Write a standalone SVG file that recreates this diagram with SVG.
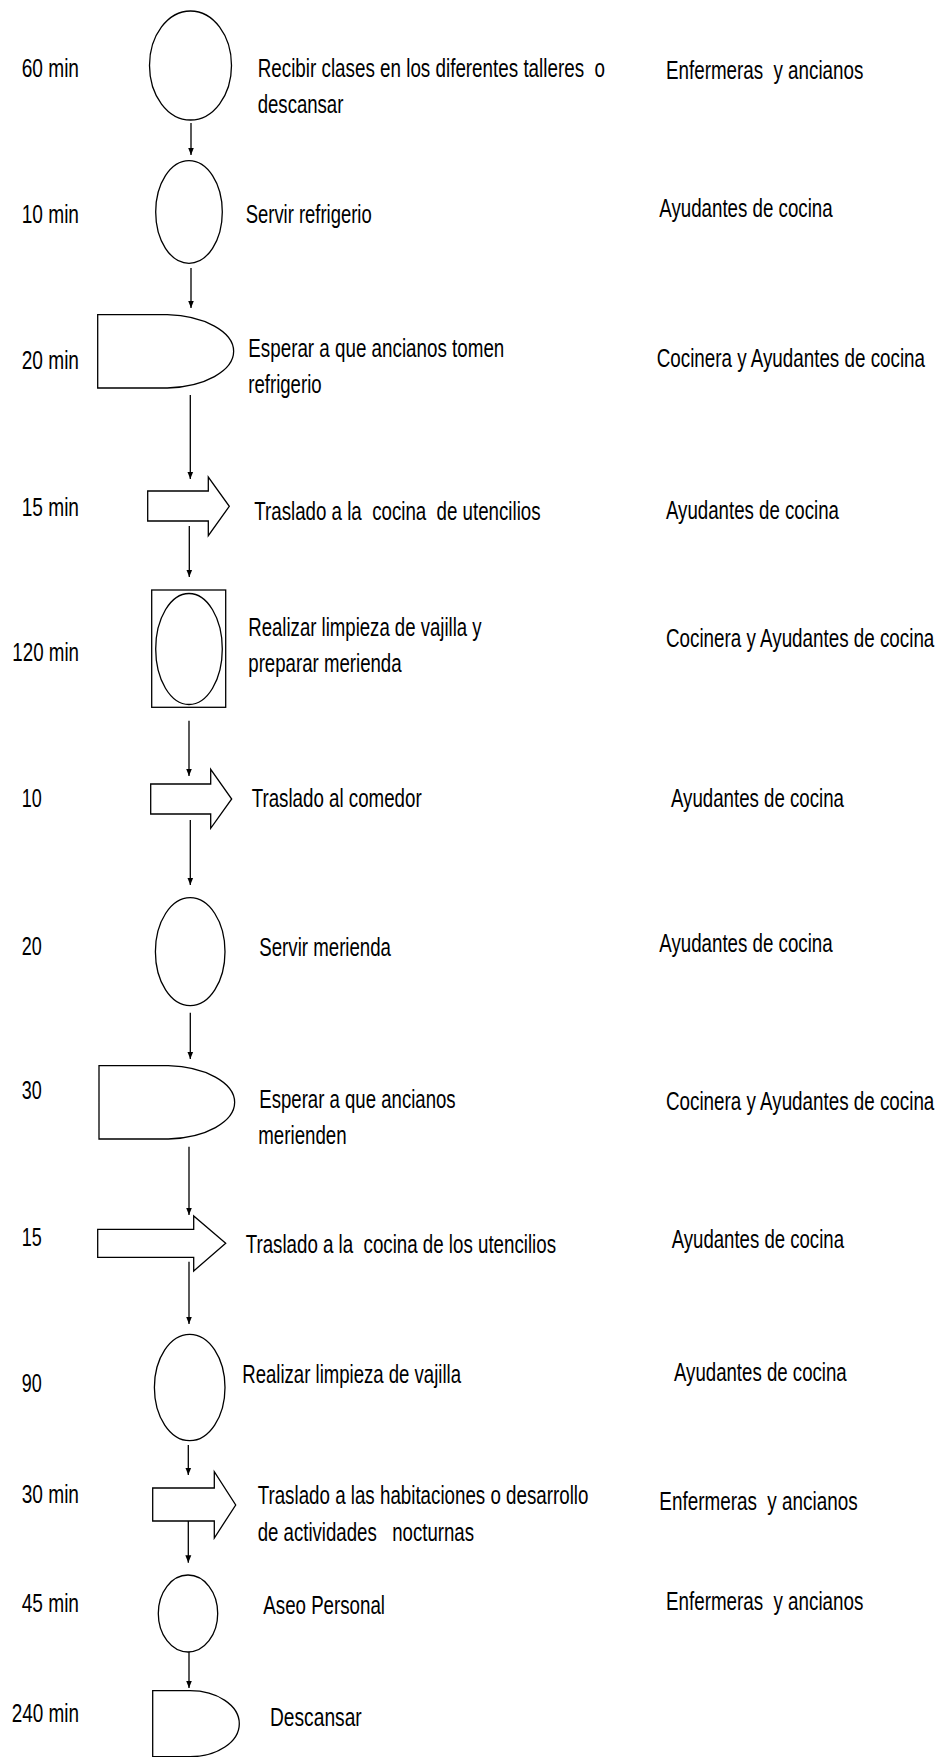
<svg xmlns="http://www.w3.org/2000/svg" width="940" height="1757" viewBox="0 0 940 1757">
<style>
.s{fill:#fff;stroke:#000;stroke-width:1.3}
.c{fill:none;stroke:#000;stroke-width:1.3}
text{font-family:"Liberation Sans Narrow","Liberation Sans",Arial,sans-serif;font-size:26.5px;fill:#000;white-space:pre}
</style>
<defs>
<marker id="ah" markerUnits="userSpaceOnUse" markerWidth="8" markerHeight="8" refX="7.5" refY="4" orient="auto"><path d="M0,1 L7.5,4 L0,7 z" fill="#000"/></marker>
</defs>
<rect width="940" height="1757" fill="#fff"/>
<g id="connectors">
<line class="c" x1="191" y1="123" x2="191" y2="155" marker-end="url(#ah)"/>
<line class="c" x1="191" y1="268" x2="191" y2="308" marker-end="url(#ah)"/>
<line class="c" x1="190.3" y1="395" x2="190.3" y2="479" marker-end="url(#ah)"/>
<line class="c" x1="189.3" y1="526" x2="189.3" y2="577" marker-end="url(#ah)"/>
<line class="c" x1="189" y1="720.7" x2="189" y2="776" marker-end="url(#ah)"/>
<line class="c" x1="190.3" y1="820" x2="190.3" y2="885" marker-end="url(#ah)"/>
<line class="c" x1="190.3" y1="1012.7" x2="190.3" y2="1059" marker-end="url(#ah)"/>
<line class="c" x1="189" y1="1146.7" x2="189" y2="1215" marker-end="url(#ah)"/>
<line class="c" x1="189" y1="1261.7" x2="189" y2="1324" marker-end="url(#ah)"/>
<line class="c" x1="188.3" y1="1445" x2="188.3" y2="1475" marker-end="url(#ah)"/>
<line class="c" x1="188.3" y1="1518" x2="188.3" y2="1562.7" marker-end="url(#ah)"/>
<line class="c" x1="189" y1="1652" x2="189" y2="1688" marker-end="url(#ah)"/>
</g>
<g id="n1">
<ellipse class="s" cx="190.5" cy="65.5" rx="41" ry="54.5"/>
<text x="21.7" y="76.7" textLength="57.3" lengthAdjust="spacingAndGlyphs">60 min</text>
<text x="257.7" y="76.7" textLength="347.3" lengthAdjust="spacingAndGlyphs">Recibir clases en los diferentes talleres  o</text>
<text x="257.7" y="113.3" textLength="85.7" lengthAdjust="spacingAndGlyphs">descansar</text>
<text x="666" y="79" textLength="197.3" lengthAdjust="spacingAndGlyphs">Enfermeras  y ancianos</text>
</g>
<g id="n2">
<ellipse class="s" cx="189" cy="212" rx="33.3" ry="51.3"/>
<text x="21.7" y="222.5" textLength="57.3" lengthAdjust="spacingAndGlyphs">10 min</text>
<text x="245.7" y="222.5" textLength="126" lengthAdjust="spacingAndGlyphs">Servir refrigerio</text>
<text x="659.3" y="216.5" textLength="173.3" lengthAdjust="spacingAndGlyphs">Ayudantes de cocina</text>
</g>
<g id="n3">
<path class="s" d="M97.7,314.7 H167.3 A70,36.7 0 0 1 167.3,388 H97.7 Z"/>
<text x="21.7" y="369" textLength="57.3" lengthAdjust="spacingAndGlyphs">20 min</text>
<text x="248.3" y="357" textLength="256" lengthAdjust="spacingAndGlyphs">Esperar a que ancianos tomen</text>
<text x="248.3" y="393" textLength="73.3" lengthAdjust="spacingAndGlyphs">refrigerio</text>
<text x="656.7" y="367.3" textLength="268.3" lengthAdjust="spacingAndGlyphs">Cocinera y Ayudantes de cocina</text>
</g>
<g id="n4">
<polygon class="s" points="147.7,491 208.3,491 208.3,477 229.3,506.3 208.3,535.7 208.3,521 147.7,521"/>
<text x="21.7" y="515.5" textLength="57.3" lengthAdjust="spacingAndGlyphs">15 min</text>
<text x="254.3" y="520" textLength="286.3" lengthAdjust="spacingAndGlyphs">Traslado a la  cocina  de utencilios</text>
<text x="666" y="519" textLength="173" lengthAdjust="spacingAndGlyphs">Ayudantes de cocina</text>
</g>
<g id="n5">
<rect class="s" x="151.7" y="590" width="74" height="117.3"/>
<ellipse class="s" cx="189" cy="649" rx="33.3" ry="55.5"/>
<text x="12.3" y="661" textLength="66.7" lengthAdjust="spacingAndGlyphs">120 min</text>
<text x="248.3" y="636" textLength="233.3" lengthAdjust="spacingAndGlyphs">Realizar limpieza de vajilla y</text>
<text x="248.3" y="672" textLength="153.3" lengthAdjust="spacingAndGlyphs">preparar merienda</text>
<text x="666" y="646.7" textLength="268.3" lengthAdjust="spacingAndGlyphs">Cocinera y Ayudantes de cocina</text>
</g>
<g id="n6">
<polygon class="s" points="150.7,784 210.7,784 210.7,769.3 231.7,799 210.7,828.3 210.7,814 150.7,814"/>
<text x="21.7" y="807" textLength="20" lengthAdjust="spacingAndGlyphs">10</text>
<text x="251.7" y="807" textLength="170" lengthAdjust="spacingAndGlyphs">Traslado al comedor</text>
<text x="671" y="807" textLength="173" lengthAdjust="spacingAndGlyphs">Ayudantes de cocina</text>
</g>
<g id="n7">
<ellipse class="s" cx="190.2" cy="951.7" rx="34.8" ry="54"/>
<text x="21.7" y="955" textLength="20" lengthAdjust="spacingAndGlyphs">20</text>
<text x="259.3" y="955.5" textLength="131.7" lengthAdjust="spacingAndGlyphs">Servir merienda</text>
<text x="659.3" y="951.5" textLength="173.3" lengthAdjust="spacingAndGlyphs">Ayudantes de cocina</text>
</g>
<g id="n8">
<path class="s" d="M99,1065.7 H168.3 A70,36.7 0 0 1 168.3,1139 H99 Z"/>
<text x="21.7" y="1099" textLength="20" lengthAdjust="spacingAndGlyphs">30</text>
<text x="259.3" y="1108" textLength="196.3" lengthAdjust="spacingAndGlyphs">Esperar a que ancianos</text>
<text x="258.3" y="1144" textLength="88.3" lengthAdjust="spacingAndGlyphs">merienden</text>
<text x="666" y="1109.5" textLength="268.3" lengthAdjust="spacingAndGlyphs">Cocinera y Ayudantes de cocina</text>
</g>
<g id="n9">
<polygon class="s" points="97.7,1229.3 193.7,1229.3 193.7,1216 225.7,1243.3 193.7,1271 193.7,1257.3 97.7,1257.3"/>
<text x="21.7" y="1245.5" textLength="20" lengthAdjust="spacingAndGlyphs">15</text>
<text x="245.7" y="1253" textLength="310.3" lengthAdjust="spacingAndGlyphs">Traslado a la  cocina de los utencilios</text>
<text x="671.7" y="1248.4" textLength="172.3" lengthAdjust="spacingAndGlyphs">Ayudantes de cocina</text>
</g>
<g id="n10">
<ellipse class="s" cx="189.7" cy="1387.5" rx="35.3" ry="53.2"/>
<text x="21.7" y="1392" textLength="20" lengthAdjust="spacingAndGlyphs">90</text>
<text x="242.3" y="1382.5" textLength="218.7" lengthAdjust="spacingAndGlyphs">Realizar limpieza de vajilla</text>
<text x="674" y="1380.6" textLength="172.7" lengthAdjust="spacingAndGlyphs">Ayudantes de cocina</text>
</g>
<g id="n11">
<polygon class="s" points="152.7,1488 214.3,1488 214.3,1471.7 235.7,1505 214.3,1538 214.3,1521 152.7,1521"/>
<text x="21.7" y="1502.5" textLength="57.3" lengthAdjust="spacingAndGlyphs">30 min</text>
<text x="257.7" y="1504" textLength="330.7" lengthAdjust="spacingAndGlyphs">Traslado a las habitaciones o desarrollo</text>
<text x="257.7" y="1540.5" textLength="216.3" lengthAdjust="spacingAndGlyphs">de actividades   nocturnas</text>
<text x="659.3" y="1509.5" textLength="198.3" lengthAdjust="spacingAndGlyphs">Enfermeras  y ancianos</text>
</g>
<g id="n12">
<ellipse class="s" cx="188" cy="1613.5" rx="29.7" ry="38.5"/>
<text x="21.7" y="1612" textLength="57.3" lengthAdjust="spacingAndGlyphs">45 min</text>
<text x="263.3" y="1613.5" textLength="121.7" lengthAdjust="spacingAndGlyphs">Aseo Personal</text>
<text x="666" y="1610.3" textLength="197.3" lengthAdjust="spacingAndGlyphs">Enfermeras  y ancianos</text>
</g>
<g id="n13">
<path class="s" d="M152.7,1690.7 H190 A49.3,33 0 0 1 190,1756.7 H152.7 Z"/>
<text x="11.7" y="1722" textLength="67.3" lengthAdjust="spacingAndGlyphs">240 min</text>
<text x="270" y="1725.5" textLength="91.7" lengthAdjust="spacingAndGlyphs">Descansar</text>
</g>
</svg>
